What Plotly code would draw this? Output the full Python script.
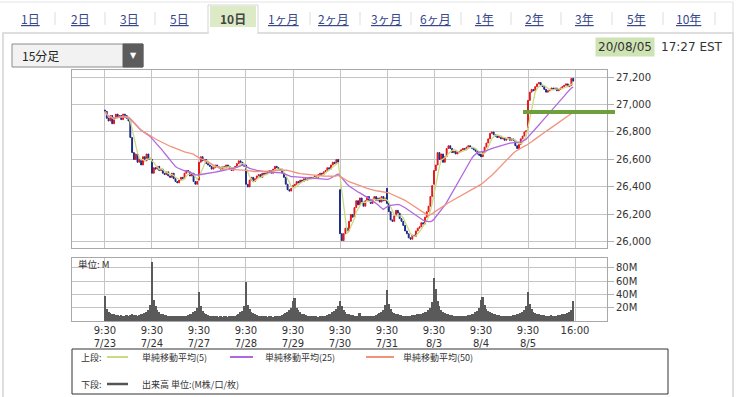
import plotly.graph_objects as go
import pandas as pd

# ---------------- data ----------------
tabs = ["1日", "2日", "3日", "5日", "10日", "1ヶ月", "2ヶ月", "3ヶ月", "6ヶ月", "1年", "2年", "3年", "5年", "10年"]
selected_tab = "10日"
interval_label = "15分足"
stamp_date = "20/08/05"
stamp_time = "17:27 EST"

days = ["7/23", "7/24", "7/27", "7/28", "7/29", "7/30", "7/31", "8/3", "8/4", "8/5"]
end_label = "16:00"
day_open = [26960, 26600, 26450, 26560, 26400, 26380, 26390, 26420, 26640, 26830]

close_0723 = [26950, 26900, 26880, 26920, 26860, 26900, 26930, 26910, 26920, 26890, 26930, 26920, 26900,
              26880, 26760, 26650, 26600, 26640, 26580, 26600, 26560, 26620, 26590, 26640, 26600, 26610]
close_0724 = [26500, 26540, 26530, 26550, 26520, 26530, 26500, 26490, 26510, 26480, 26470, 26500, 26460,
              26440, 26430, 26450, 26470, 26460, 26500, 26520, 26510, 26480, 26500, 26440, 26420, 26440]
close_0727 = [26580, 26620, 26590, 26600, 26570, 26560, 26550, 26530, 26540, 26560, 26550, 26540, 26530,
              26550, 26540, 26560, 26550, 26530, 26520, 26540, 26550, 26570, 26590, 26580, 26560, 26550]
close_0728 = [26420, 26400, 26450, 26470, 26440, 26460, 26480, 26490, 26470, 26500, 26490, 26500, 26510,
              26520, 26500, 26530, 26550, 26540, 26520, 26530, 26500, 26470, 26420, 26380, 26370, 26390]
close_0729 = [26410, 26420, 26440, 26430, 26450, 26440, 26460, 26450, 26460, 26470, 26460, 26470, 26480,
              26470, 26490, 26500, 26490, 26510, 26520, 26540, 26530, 26560, 26580, 26570, 26600, 26580]
close_0730 = [26060, 26010, 26060, 26100, 26080, 26150, 26200, 26180, 26250, 26300, 26270, 26320, 26290,
              26260, 26300, 26330, 26300, 26280, 26310, 26330, 26300, 26320, 26290, 26330, 26300, 26320]
close_0731 = [26280, 26220, 26160, 26150, 26190, 26230, 26210, 26170, 26150, 26120, 26080, 26060, 26030,
              26020, 26050, 26040, 26080, 26100, 26110, 26140, 26130, 26180, 26220, 26260, 26330, 26410]
close_0803 = [26520, 26560, 26650, 26600, 26640, 26580, 26620, 26680, 26700, 26680, 26650, 26660, 26640,
              26650, 26660, 26670, 26680, 26670, 26690, 26700, 26690, 26680, 26670, 26660, 26640, 26630]
close_0804 = [26620, 26650, 26690, 26720, 26750, 26790, 26800, 26780, 26770, 26760, 26770, 26750, 26760,
              26740, 26750, 26760, 26740, 26750, 26740, 26700, 26680, 26710, 26750, 26770, 26800, 26810]
close_0805 = [27030, 27090, 27110, 27100, 27130, 27150, 27160, 27140, 27130, 27110, 27090, 27100, 27110,
              27120, 27110, 27120, 27100, 27110, 27120, 27130, 27140, 27150, 27130, 27140, 27190, 27170]

vol_0723 = [37, 18, 14, 12, 11, 10, 9, 9, 8, 9, 8, 8, 9, 8, 9, 10, 9, 9, 8, 9, 10, 11, 12, 14, 16, 24]
vol_0724 = [89, 32, 22, 16, 13, 11, 10, 9, 9, 8, 8, 7, 7, 8, 7, 7, 8, 8, 7, 8, 9, 10, 11, 13, 15, 20]
vol_0727 = [43, 22, 15, 12, 10, 9, 8, 8, 7, 7, 7, 6, 7, 6, 7, 7, 6, 7, 7, 8, 8, 9, 11, 13, 15, 22]
vol_0728 = [58, 24, 18, 14, 12, 10, 9, 8, 8, 7, 7, 7, 6, 7, 7, 6, 7, 7, 8, 8, 9, 10, 12, 14, 16, 20]
vol_0729 = [30, 34, 20, 16, 13, 11, 10, 9, 8, 8, 7, 7, 7, 7, 6, 7, 7, 8, 8, 9, 10, 11, 13, 15, 18, 22]
vol_0730 = [30, 22, 17, 13, 11, 10, 9, 9, 8, 8, 7, 12, 7, 7, 7, 8, 8, 8, 8, 8, 9, 10, 12, 14, 17, 24]
vol_0731 = [47, 26, 18, 14, 12, 11, 10, 9, 9, 8, 8, 8, 8, 8, 9, 9, 9, 10, 10, 11, 12, 13, 14, 16, 20, 28]
vol_0803 = [65, 48, 30, 22, 17, 14, 12, 11, 10, 9, 9, 8, 8, 8, 7, 8, 7, 8, 8, 9, 9, 10, 11, 13, 15, 20]
vol_0804 = [32, 36, 24, 18, 15, 13, 12, 11, 10, 9, 9, 8, 8, 8, 8, 8, 8, 8, 9, 9, 10, 11, 12, 14, 16, 22]
vol_0805 = [43, 26, 18, 14, 12, 11, 10, 9, 9, 9, 8, 8, 8, 9, 8, 8, 8, 9, 9, 10, 10, 11, 12, 14, 17, 30]

price_ticks = [26000, 26200, 26400, 26600, 26800, 27000, 27200]
volume_ticks = [20, 40, 60, 80]
ma_periods = [5, 25, 50]
ma_names = ["単純移動平均(5)", "単純移動平均(25)", "単純移動平均(50)"]
vol_name = "出来高 単位:(M株/口/枚)"

# ---------------- build series ----------------
day_closes = [close_0723, close_0724, close_0727, close_0728, close_0729,
              close_0730, close_0731, close_0803, close_0804, close_0805]
day_vols = [vol_0723, vol_0724, vol_0727, vol_0728, vol_0729,
            vol_0730, vol_0731, vol_0803, vol_0804, vol_0805]

closes, opens, volumes = [], [], []
for d, cl in enumerate(day_closes):
    opens += [day_open[d]] + cl[:-1]
    closes += cl
    volumes += day_vols[d]
n = len(closes)
idx = list(range(n))
highs = [max(o, c) for o, c in zip(opens, closes)]
lows = [min(o, c) for o, c in zip(opens, closes)]
bars_per_day = len(close_0723)
day_starts = [d * bars_per_day for d in range(len(days))]
tick_pos = day_starts + [n]
tick_text = [f"9:30<br>{d}" for d in days] + [end_label]

s = pd.Series(closes, dtype=float)
mas = [s.rolling(p, min_periods=1).mean().tolist() for p in ma_periods]

# ---------------- geometry ----------------
W, H = 746, 397
def px(x):
    return x / W
def py(y):
    return 1 - y / H

x_range = [-18.25, n + 17.7]
ma_colors = ["#c9dc82", "#b068e0", "#f2937c"]
up_col, dn_col = "#e3161d", "#1b2a86"
grid_col = "#c4c4c4"
tick_font = dict(family="DejaVu Sans", size=10, color="#333")
jp = "Noto Sans CJK JP"

fig = go.Figure()
fig.add_trace(go.Candlestick(
    x=idx, open=opens, high=highs, low=lows, close=closes,
    increasing=dict(line=dict(color=up_col, width=1), fillcolor=up_col),
    decreasing=dict(line=dict(color=dn_col, width=1), fillcolor=dn_col),
    whiskerwidth=0, showlegend=False, xaxis="x", yaxis="y"))
for m, col in zip(mas, ma_colors):
    fig.add_trace(go.Scatter(x=idx, y=m, mode="lines", line=dict(color=col, width=1.3),
                             showlegend=False, hoverinfo="skip", xaxis="x", yaxis="y"))
fig.add_trace(go.Bar(x=idx, y=volumes, marker=dict(color="#5a5a5a", line=dict(width=0)),
                     showlegend=False, xaxis="x2", yaxis="y2"))

axis_common = dict(showline=True, mirror=True, linecolor="#a8a8a8", zeroline=False,
                   showgrid=True, gridcolor=grid_col, gridwidth=1)

fig.update_layout(
    width=W, height=H, margin=dict(l=0, r=0, t=0, b=0),
    paper_bgcolor="white", plot_bgcolor="white", bargap=0,
    xaxis=dict(domain=[px(72), px(607)], range=x_range, tickvals=tick_pos,
               showticklabels=False, rangeslider=dict(visible=False), anchor="y", **axis_common),
    yaxis=dict(domain=[py(248), py(70)], range=[25956, 27251], side="right",
               tickvals=price_ticks, tickformat=",", ticks="outside", ticklen=6,
               tickcolor="#b0b0b0", tickfont=tick_font, anchor="x", **axis_common),
    xaxis2=dict(domain=[px(72), px(607)], range=x_range, tickvals=tick_pos, ticktext=tick_text,
                tickfont=tick_font, anchor="y2", ticks="", **axis_common),
    yaxis2=dict(domain=[py(321), py(258)], range=[0, 94.8], side="right",
                tickvals=volume_ticks, ticktext=[f"{v}M" for v in volume_ticks],
                ticks="outside", ticklen=6, tickcolor="#b0b0b0", tickfont=tick_font,
                anchor="x2", **axis_common),
    font=dict(family=jp),
)

shapes = []
ann = []
# outer content frame and tab strip
shapes.append(dict(type="rect", xref="paper", yref="paper", x0=px(3), x1=px(733), y0=py(400), y1=py(33),
                   line=dict(color="#d4d4d4", width=1.5), layer="below"))
shapes.append(dict(type="line", xref="paper", yref="paper", x0=0, x1=px(733), y0=py(2), y1=py(2),
                   line=dict(color="#e4e4e4", width=1)))
shapes.append(dict(type="line", xref="paper", yref="paper", x0=px(733), x1=px(733), y0=py(2), y1=py(33),
                   line=dict(color="#dcdcdc", width=1)))
# selected tab
shapes.append(dict(type="rect", xref="paper", yref="paper", x0=px(208), x1=px(258), y0=py(33), y1=py(5),
                   fillcolor="white", line=dict(color="#d4d4d4", width=1)))
shapes.append(dict(type="rect", xref="paper", yref="paper", x0=px(210), x1=px(256), y0=py(27), y1=py(6),
                   fillcolor="#dcebc6", line=dict(width=0)))
shapes.append(dict(type="line", xref="paper", yref="paper", x0=px(208.8), x1=px(257.2), y0=py(33), y1=py(33),
                   line=dict(color="white", width=2)))

tab_x = [30, 80, 129, 179, 233, 283, 333, 386, 436, 484, 534, 584, 636, 688]
sep_x = [55, 105, 155, 310, 360, 411, 461, 511, 561, 612, 663, 715]
for t, x in zip(tabs, tab_x):
    if t == selected_tab:
        ann.append(dict(x=px(x), y=py(19), text=f"<b>{t}</b>", font=dict(size=12, color="#444", family=jp)))
    else:
        ann.append(dict(x=px(x), y=py(19), text=f"<u>{t}</u>", font=dict(size=12, color="#36478c", family=jp)))
for x in sep_x:
    shapes.append(dict(type="line", xref="paper", yref="paper", x0=px(x), x1=px(x), y0=py(12), y1=py(25),
                       line=dict(color="#dddddd", width=1)))

# dropdown
shapes.append(dict(type="rect", xref="paper", yref="paper", x0=px(12), x1=px(143), y0=py(67), y1=py(44),
                   fillcolor="#f2f2f2", line=dict(color="#8c8c8c", width=1)))
shapes.append(dict(type="rect", xref="paper", yref="paper", x0=px(123), x1=px(143), y0=py(67), y1=py(44),
                   fillcolor="#5c5c5c", line=dict(color="#5c5c5c", width=1)))
ann.append(dict(x=px(20), y=py(55.5), text=interval_label, xanchor="left",
                font=dict(size=12, color="#222", family=jp)))
ann.append(dict(x=px(133), y=py(55), text="▼", font=dict(size=8, color="white", family="DejaVu Sans")))

# timestamp
ann.append(dict(x=px(655), y=py(47), text=stamp_date, xanchor="right", bgcolor="#cfe4b4", borderpad=2,
                font=dict(size=12, color="#333", family="DejaVu Sans")))
ann.append(dict(x=px(659), y=py(47), text=stamp_time, xanchor="left",
                font=dict(size=12, color="#333", family="DejaVu Sans")))

# green highlight line
shapes.append(dict(type="line", xref="paper", yref="paper", x0=px(523), x1=px(615), y0=py(112), y1=py(112),
                   line=dict(color="#6f9e3c", width=4)))

# volume unit label
ann.append(dict(x=px(76), y=py(264), text="単位: M", xanchor="left",
                font=dict(size=9.5, color="#333", family=jp)))

# legend box
row1, row2 = 357, 384
shapes.append(dict(type="rect", xref="paper", yref="paper", x0=px(72), x1=px(668), y0=py(394), y1=py(349),
                   line=dict(color="#333", width=1), fillcolor="rgba(0,0,0,0)"))
ann.append(dict(x=px(79), y=py(row1), text="上段:", xanchor="left", font=dict(size=9, color="#333", family=jp)))
ann.append(dict(x=px(79), y=py(row2), text="下段:", xanchor="left", font=dict(size=9, color="#333", family=jp)))
leg_x = [(107, 128, 140), (230, 253, 263), (366, 394, 401)]
for (a, b, tx), col, name in zip(leg_x, ma_colors, ma_names):
    shapes.append(dict(type="line", xref="paper", yref="paper", x0=px(a), x1=px(b), y0=py(row1), y1=py(row1),
                       line=dict(color=col, width=2)))
    ann.append(dict(x=px(tx), y=py(row1), text=name, xanchor="left", font=dict(size=9, color="#333", family=jp)))
shapes.append(dict(type="line", xref="paper", yref="paper", x0=px(107), x1=px(128), y0=py(row2), y1=py(row2),
                   line=dict(color="#555", width=2.5)))
ann.append(dict(x=px(140), y=py(row2), text=vol_name, xanchor="left", font=dict(size=9, color="#333", family=jp)))

for a in ann:
    a.update(xref="paper", yref="paper", showarrow=False, yanchor="middle")
    a.setdefault("xanchor", "center")
fig.update_layout(shapes=shapes, annotations=ann)

fig.write_html("out.html", config={"displayModeBar": False},
               post_script="document.body.style.margin='0';document.body.style.overflow='hidden';")
